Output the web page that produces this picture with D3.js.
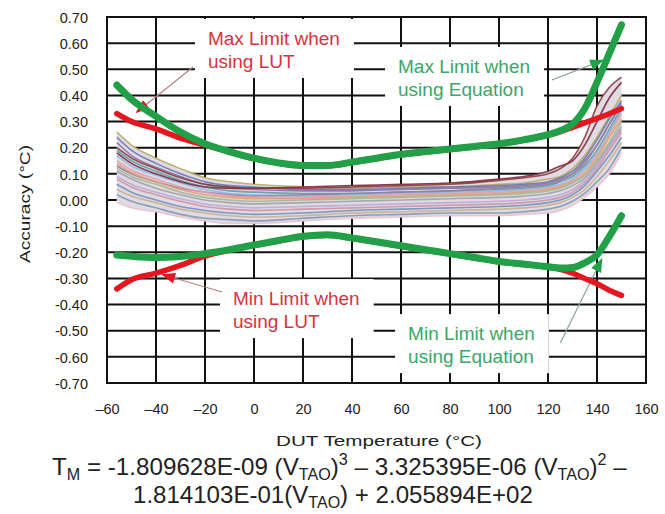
<!DOCTYPE html>
<html>
<head>
<meta charset="utf-8">
<script src="https://cdn.jsdelivr.net/npm/d3@7/dist/d3.min.js"></script>
<style>
body { margin:0; background:#fff; }
svg { display:block; font-family:"Liberation Sans", Arial, sans-serif; }
</style>
</head>
<body>
<svg id="chart" width="665" height="514"></svg>
<script>
// axis ticks
var xTicks = [-60,-40,-20,0,20,40,60,80,100,120,140,160];
var xTickLabels = ["–60","–40","–20","0","20","40","60","80","100","120","140","160"];
var yTicks = [0.7,0.6,0.5,0.4,0.3,0.2,0.1,0,-0.1,-0.2,-0.3,-0.4,-0.5,-0.6,-0.7];
var yTickLabels = ["0.70","0.60","0.50","0.40","0.30","0.20","0.10","0.00","-0.10","-0.20","-0.30","-0.40","-0.50","-0.60","-0.70"];

// limit curves
var tLim   = [-56,-50,-40,-30,-20,-10,0,10,20,30,40,50,60,70,80,90,100,110,120,125,130,135,140,145,150];
var eqMax  = [0.44,0.385,0.32,0.26,0.215,0.185,0.16,0.142,0.132,0.132,0.145,0.16,0.175,0.185,0.195,0.205,0.215,0.23,0.25,0.265,0.29,0.35,0.45,0.56,0.67];
var lutMax = [0.33,0.30,0.272,0.237,0.21,0.183,0.158,0.14,0.13,0.13,0.143,0.158,0.173,0.183,0.193,0.203,0.213,0.228,0.248,0.262,0.278,0.295,0.312,0.33,0.35];
var eqMin  = [-0.21,-0.215,-0.22,-0.216,-0.205,-0.19,-0.172,-0.155,-0.139,-0.133,-0.145,-0.16,-0.175,-0.19,-0.205,-0.22,-0.235,-0.245,-0.255,-0.26,-0.258,-0.24,-0.21,-0.14,-0.06];
var lutMin = [-0.34,-0.305,-0.28,-0.25,-0.215,-0.192,-0.174,-0.157,-0.141,-0.135,-0.147,-0.162,-0.177,-0.192,-0.207,-0.222,-0.237,-0.247,-0.257,-0.265,-0.28,-0.30,-0.32,-0.345,-0.365];

// measured devices
var tBand = [-56,-50,-40,-30,-20,-10,0,20,40,60,80,100,110,120,125,130,135,140,145,150];
var dev01 = [0.26,0.21,0.16,0.12,0.085,0.07,0.06,0.05,0.045,0.05,0.05,0.06,0.065,0.08,0.09,0.12,0.17,0.24,0.32,0.40];
var dev02 = [0.24,0.19,0.14,0.10,0.07,0.055,0.05,0.04,0.04,0.045,0.05,0.055,0.06,0.07,0.085,0.11,0.16,0.23,0.31,0.38];
var dev03 = [0.22,0.17,0.125,0.09,0.06,0.045,0.04,0.035,0.035,0.04,0.045,0.05,0.055,0.065,0.08,0.10,0.15,0.21,0.29,0.37];
var dev04 = [0.20,0.16,0.12,0.085,0.06,0.05,0.045,0.045,0.05,0.055,0.06,0.075,0.085,0.10,0.12,0.16,0.24,0.36,0.43,0.47];
var dev05 = [0.18,0.14,0.10,0.07,0.05,0.045,0.045,0.05,0.055,0.06,0.065,0.08,0.09,0.11,0.13,0.15,0.21,0.30,0.39,0.45];
var dev06 = [0.19,0.15,0.11,0.075,0.05,0.035,0.03,0.025,0.025,0.03,0.035,0.04,0.045,0.055,0.07,0.09,0.13,0.19,0.27,0.35];
var dev07 = [0.17,0.13,0.095,0.065,0.04,0.025,0.02,0.015,0.02,0.025,0.03,0.035,0.04,0.05,0.06,0.08,0.12,0.18,0.26,0.34];
var dev08 = [0.15,0.115,0.08,0.05,0.03,0.015,0.01,0.01,0.015,0.02,0.025,0.03,0.035,0.045,0.055,0.075,0.11,0.17,0.25,0.33];
var dev09 = [0.14,0.105,0.07,0.04,0.02,0.01,0.005,0.005,0.01,0.015,0.02,0.025,0.03,0.04,0.05,0.07,0.10,0.16,0.24,0.31];
var dev10 = [0.12,0.09,0.06,0.03,0.01,0.0,-0.005,0.0,0.005,0.01,0.015,0.02,0.025,0.035,0.045,0.065,0.095,0.15,0.22,0.30];
var dev11 = [0.11,0.08,0.045,0.02,0.0,-0.01,-0.015,-0.01,-0.005,0.0,0.005,0.01,0.015,0.025,0.035,0.055,0.085,0.14,0.21,0.28];
var dev12 = [0.09,0.06,0.03,0.005,-0.015,-0.025,-0.03,-0.025,-0.02,-0.015,-0.01,-0.005,0.0,0.01,0.02,0.04,0.075,0.13,0.20,0.27];
var dev13 = [0.08,0.05,0.02,-0.005,-0.025,-0.035,-0.04,-0.035,-0.03,-0.025,-0.02,-0.015,-0.01,0.0,0.01,0.03,0.065,0.12,0.19,0.26];
var dev14 = [0.06,0.03,0.0,-0.025,-0.04,-0.05,-0.055,-0.05,-0.04,-0.035,-0.03,-0.025,-0.02,-0.01,0.0,0.02,0.055,0.11,0.17,0.24];
var dev15 = [0.04,0.015,-0.01,-0.035,-0.05,-0.06,-0.065,-0.06,-0.05,-0.045,-0.04,-0.035,-0.03,-0.02,-0.01,0.01,0.04,0.09,0.15,0.22];
var dev16 = [0.02,-0.005,-0.03,-0.055,-0.07,-0.075,-0.08,-0.07,-0.06,-0.055,-0.05,-0.05,-0.045,-0.035,-0.025,-0.005,0.025,0.07,0.12,0.20];
var dev17 = [-0.01,-0.03,-0.045,-0.065,-0.08,-0.09,-0.09,-0.08,-0.07,-0.065,-0.06,-0.06,-0.055,-0.05,-0.04,-0.02,0.01,0.05,0.10,0.18];
var dev18 = [0.13,0.10,0.07,0.045,0.03,0.02,0.015,0.02,0.025,0.03,0.035,0.045,0.05,0.06,0.075,0.10,0.14,0.21,0.29,0.36];
var devices = [dev01,dev02,dev03,dev06,dev07,dev18,dev08,dev09,dev10,dev11,dev12,dev13,dev14,dev15,dev16,dev17,dev05,dev04];
var devColors = ["#b8a860","#6a78b0","#8a70a8","#5aa0a0","#90b8e0","#9080a0","#e0a0b0","#e0a070","#a0b890","#a0a0a8","#b8a8d8","#d090a0","#7090c0","#c8b090","#8098b0","#e8c0d0","#7a2a40","#8b3a3a"];

// annotations (data units)
var notes = [
    {lines:["Max Limit when","using LUT"], t:-18.8, v:0.593, color:"#d8323e"},
    {lines:["Max Limit when","using Equation"], t:58.8, v:0.486, color:"#3aa66c"},
    {lines:["Min Limit when","using LUT"], t:-8.6, v:-0.402, color:"#d8323e"},
    {lines:["Min Limit when","using Equation"], t:62.9, v:-0.536, color:"#3aa66c"}
];
var pointers = [
    {from:[-24.9,0.509], to:[-48,0.335], color:"#b98080", head:"red"},
    {from:[121.6,0.459], to:[142.5,0.535], color:"#8fa095", head:"green"},
    {from:[-13,-0.352], to:[-37.5,-0.285], color:"#b98080", head:"red"},
    {from:[125,-0.547], to:[142,-0.225], color:"#8fa095", head:"green"}
];

var RED = "#e5161f", GREEN = "#22a047";

var svg = d3.select("#chart");
var x = d3.scaleLinear().domain([-60,160]).range([107,646]);
var y = d3.scaleLinear().domain([0.7,-0.7]).range([17,383]);

var defs = svg.append("defs");
[["red",RED],["green",GREEN]].forEach(function(m){
    defs.append("marker")
        .attr("id","arr-"+m[0])
        .attr("markerUnits","userSpaceOnUse")
        .attr("viewBox","0 -6 14 12")
        .attr("refX",13).attr("refY",0)
        .attr("markerWidth",14).attr("markerHeight",12)
        .attr("orient","auto")
        .append("path")
        .attr("d","M0,-5.5L14,0L0,5.5Z")
        .attr("fill",m[1]);
});

// grid
var grid = svg.append("g").attr("class","grid");
grid.selectAll(".hl").data(yTicks).enter().append("line")
    .attr("x1",x(-60)).attr("x2",x(160))
    .attr("y1",function(d){ return y(d); })
    .attr("y2",function(d){ return y(d); })
    .attr("stroke","#111").attr("stroke-width",2);
grid.selectAll(".vl").data(xTicks).enter().append("line")
    .attr("y1",y(0.7)).attr("y2",y(-0.7))
    .attr("x1",function(d){ return x(d); })
    .attr("x2",function(d){ return x(d); })
    .attr("stroke","#111").attr("stroke-width",2);

// band of device curves
var band = svg.append("g");
var area = d3.area()
    .x(function(d,i){ return x(tBand[i]); })
    .y0(function(d,i){ return y(d3.min(devices,function(s){ return s[i]; })); })
    .y1(function(d,i){ return y(d3.max(devices,function(s){ return s[i]; })); })
    .curve(d3.curveMonotoneX);
band.append("path").datum(tBand).attr("d",area).attr("fill","#e0dbe3");
var devLine = d3.line()
    .x(function(d,i){ return x(tBand[i]); })
    .y(function(d){ return y(d); })
    .curve(d3.curveMonotoneX);
band.selectAll("path.dev").data(devices).enter().append("path")
    .attr("class","dev")
    .attr("d",devLine)
    .attr("fill","none")
    .attr("stroke",function(d,i){ return devColors[i]; })
    .attr("stroke-width",1.6)
    .attr("opacity",0.9);

var boxes = svg.append("g");

// pointer lines
svg.append("g").selectAll("line").data(pointers).enter().append("line")
    .attr("x1",function(d){ return x(d.from[0]); })
    .attr("y1",function(d){ return y(d.from[1]); })
    .attr("x2",function(d){ return x(d.to[0]); })
    .attr("y2",function(d){ return y(d.to[1]); })
    .attr("stroke",function(d){ return d.color; })
    .attr("stroke-width",1.2)
    .attr("marker-end",function(d){ return "url(#arr-"+d.head+")"; });

// limit curves
var limLine = d3.line()
    .x(function(d,i){ return x(tLim[i]); })
    .y(function(d){ return y(d); })
    .curve(d3.curveMonotoneX);
var limits = [
    {v:lutMax, c:RED, w:5.5},
    {v:lutMin, c:RED, w:5.5},
    {v:eqMax, c:GREEN, w:7},
    {v:eqMin, c:GREEN, w:7}
];
svg.append("g").selectAll("path").data(limits).enter().append("path")
    .attr("d",function(d){ return limLine(d.v); })
    .attr("fill","none")
    .attr("stroke",function(d){ return d.c; })
    .attr("stroke-width",function(d){ return d.w; })
    .attr("stroke-linecap","round")
    .attr("stroke-linejoin","round");

// border on top
svg.append("rect")
    .attr("x",x(-60)).attr("y",y(0.7))
    .attr("width",x(160)-x(-60)).attr("height",y(-0.7)-y(0.7))
    .attr("fill","none").attr("stroke","#111").attr("stroke-width",2);

// annotation labels with white boxes
var labels = svg.append("g");
notes.forEach(function(n){
    var t = labels.append("text")
        .attr("x",x(n.t)).attr("y",y(n.v))
        .attr("fill",n.color)
        .style("font-size","19px");
    n.lines.forEach(function(s,i){
        t.append("tspan").attr("x",x(n.t)).attr("dy",i==0 ? 0 : 23).text(s);
    });
    var b = t.node().getBBox();
    boxes.append("rect")
        .attr("x",b.x-13).attr("y",b.y-9)
        .attr("width",b.width+27).attr("height",b.height+15)
        .attr("fill","#fff");
});

// axes
var xAxis = svg.append("g")
    .attr("transform","translate(0,"+y(-0.7)+")")
    .call(d3.axisBottom(x).tickValues(xTicks).tickSize(0).tickPadding(21)
        .tickFormat(function(d,i){ return xTickLabels[i]; }));
var yAxis = svg.append("g")
    .attr("transform","translate("+x(-60)+",0)")
    .call(d3.axisLeft(y).tickValues(yTicks).tickSize(0).tickPadding(19)
        .tickFormat(function(d,i){ return yTickLabels[i]; }));
[xAxis,yAxis].forEach(function(a){
    a.select(".domain").remove();
    a.selectAll("text")
        .attr("fill","#222")
        .style("font-size","14.5px")
        .attr("font-family",null);
});
yAxis.selectAll("text").attr("dy","0.36em");

svg.append("text")
    .attr("x",379).attr("y",446)
    .attr("text-anchor","middle")
    .attr("fill","#222")
    .attr("textLength",206).attr("lengthAdjust","spacingAndGlyphs")
    .style("font-size","15px")
    .text("DUT Temperature (°C)");
svg.append("text")
    .attr("transform","translate(30,204) rotate(-90)")
    .attr("text-anchor","middle")
    .attr("fill","#222")
    .attr("textLength",118).attr("lengthAdjust","spacingAndGlyphs")
    .style("font-size","14.5px")
    .text("Accuracy (°C)");

// equation
function eqText(g, parts){
    var t = g.append("text").attr("fill","#222").style("font-size","24px");
    parts.forEach(function(p){
        var s = t.append("tspan").text(p[0]);
        if (p[1]=="sub") s.style("font-size","16px").attr("dy",5);
        if (p[1]=="sup") s.style("font-size","16px").attr("dy",-10);
        if (p[1]=="back") s.attr("dy",-5);
        if (p[1]=="down") s.attr("dy",10);
    });
    return t;
}
var eq1 = svg.append("g");
var t1 = eqText(eq1, [["T"],["M","sub"],[" = -1.809628E-09 (V","back"],["TAO","sub"],[")","back"],["3","sup"],[" – 3.325395E-06 (V","down"],["TAO","sub"],[")","back"],["2","sup"],[" –","down"]]);
var w1 = t1.node().getComputedTextLength();
eq1.attr("transform","translate(52,475) scale("+(575/w1)+",1)");
var eq2 = svg.append("g");
var t2 = eqText(eq2, [["1.814103E-01(V"],["TAO","sub"],[") + 2.055894E+02","back"]]);
var w2 = t2.node().getComputedTextLength();
eq2.attr("transform","translate(133,503) scale("+(400/w2)+",1)");
</script>
</body>
</html>
